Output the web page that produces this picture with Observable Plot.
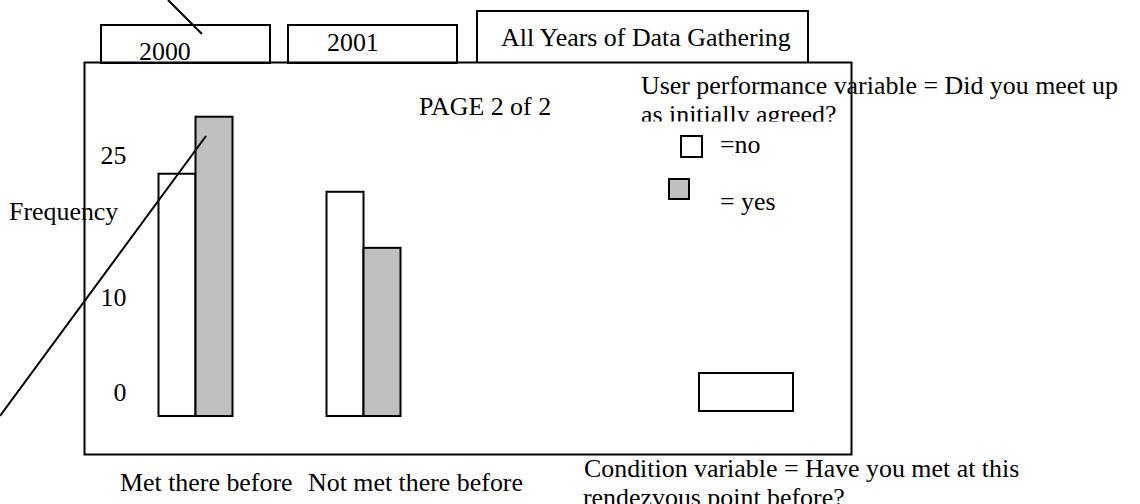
<!DOCTYPE html>
<html><head><meta charset="utf-8">
<script src="https://cdn.jsdelivr.net/npm/d3@7"></script>
<script src="https://cdn.jsdelivr.net/npm/@observablehq/plot@0.6"></script>
<style>
html,body{margin:0;padding:0;background:#fff;}
#chart{position:relative;width:1140px;height:504px;overflow:hidden;}
</style></head><body><div id="chart"></div>
<script>
const categories = ["Met there before", "Not met there before"];
const noValues = [25.5, 23.6];
const yesValues = [31.5, 17.7];
const yTicks = [0, 10, 25];
const tabLabels = ["2000", "2001", "All Years of Data Gathering"];
const pageTitle = "PAGE 2 of 2";
const yLabel = "Frequency";
const legendTitle = ["User performance variable = Did you meet up", "as initially agreed?"];
const legendLabels = ["=no", "= yes"];
const conditionText = ["Condition variable = Have you met at this", "rendezvous point before?"];

const data = categories.flatMap((c, i) => [
  {category: c, answer: "no", value: noValues[i]},
  {category: c, answer: "yes", value: yesValues[i]}
]);

const FONT = "'Liberation Serif', 'Times New Roman', serif";
const FS = 25.9;

const plot = Plot.plot({
  width: 1140, height: 504,
  marginLeft: 84, marginTop: 62, marginRight: 289, marginBottom: 50,
  style: {fontFamily: FONT, fontSize: FS + "px", background: "white", color: "black"},
  x: {domain: categories, range: [176.5, 382], paddingInner: 0.7804, paddingOuter: 0, axis: null},
  y: {domain: [0, 37.26], range: [416, 62], axis: null},
  marks: [
    Plot.frame({stroke: "black", strokeWidth: 2}),
    Plot.axisY({ticks: yTicks, tickSize: 0, tickPadding: 0, dx: 42, dy: -23.5, fontSize: FS, label: null, fill: "black"}),
    Plot.barY(data.filter(d => d.answer === "no"), {x: "category", y: "value", fill: "white", stroke: "black", strokeWidth: 2, dx: -18.5}),
    Plot.barY(data.filter(d => d.answer === "yes"), {x: "category", y: "value", fill: "#c0c0c0", stroke: "black", strokeWidth: 2, dx: 18.5})
  ]
});
document.getElementById("chart").appendChild(plot);

const svg = d3.select(plot);
const defs = svg.append("defs");
defs.append("clipPath").attr("id", "clipAgreed").append("rect").attr("x", 0).attr("y", 0).attr("width", 1140).attr("height", 121.5);

const deco = svg.append("g").attr("fill", "none").attr("stroke", "black").attr("stroke-width", 2);
// tabs
deco.append("rect").attr("x", 101).attr("y", 25).attr("width", 169).attr("height", 38);
deco.append("rect").attr("x", 288).attr("y", 25).attr("width", 169).attr("height", 38);
deco.append("path").attr("d", "M477,62V11H808V62");
// empty box
deco.append("rect").attr("x", 699).attr("y", 373).attr("width", 94).attr("height", 38);
// legend swatches
deco.append("rect").attr("x", 681).attr("y", 136).attr("width", 21).attr("height", 21).attr("fill", "white");
deco.append("rect").attr("x", 669).attr("y", 179).attr("width", 20).attr("height", 20).attr("fill", "#c0c0c0");

const txt = svg.append("g").attr("font-family", FONT).attr("font-size", FS).attr("fill", "black").attr("text-anchor", "start");
const addText = (s, x, y, extra) => {
  const t = txt.append("text").attr("x", x).attr("y", y).attr("text-anchor", "start").attr("xml:space", "preserve").style("white-space", "pre").text(s);
  if (extra) extra(t);
  return t;
};
addText(tabLabels[0], 139, 60);
addText(tabLabels[1], 327, 51);
addText(tabLabels[2], 501, 46);
addText(pageTitle, 419, 115);
addText(yLabel, 9, 220);
addText(legendTitle[0], 641, 94);
addText(legendTitle[1], 641, 123, t => t.attr("clip-path", "url(#clipAgreed)"));
addText(legendLabels[0], 720, 153);
addText(legendLabels[1], 720, 210);
addText(categories[0], 120, 491);
addText(categories[1], 308, 491);
addText(conditionText[0], 584, 477);
addText(conditionText[1], 583, 506);

// diagonal pointer lines
const lines = svg.append("g").attr("stroke", "black").attr("stroke-width", 2);
lines.append("line").attr("x1", 168).attr("y1", 0).attr("x2", 202).attr("y2", 34);
lines.append("line").attr("x1", 206).attr("y1", 136).attr("x2", 0).attr("y2", 416);
</script></body></html>
